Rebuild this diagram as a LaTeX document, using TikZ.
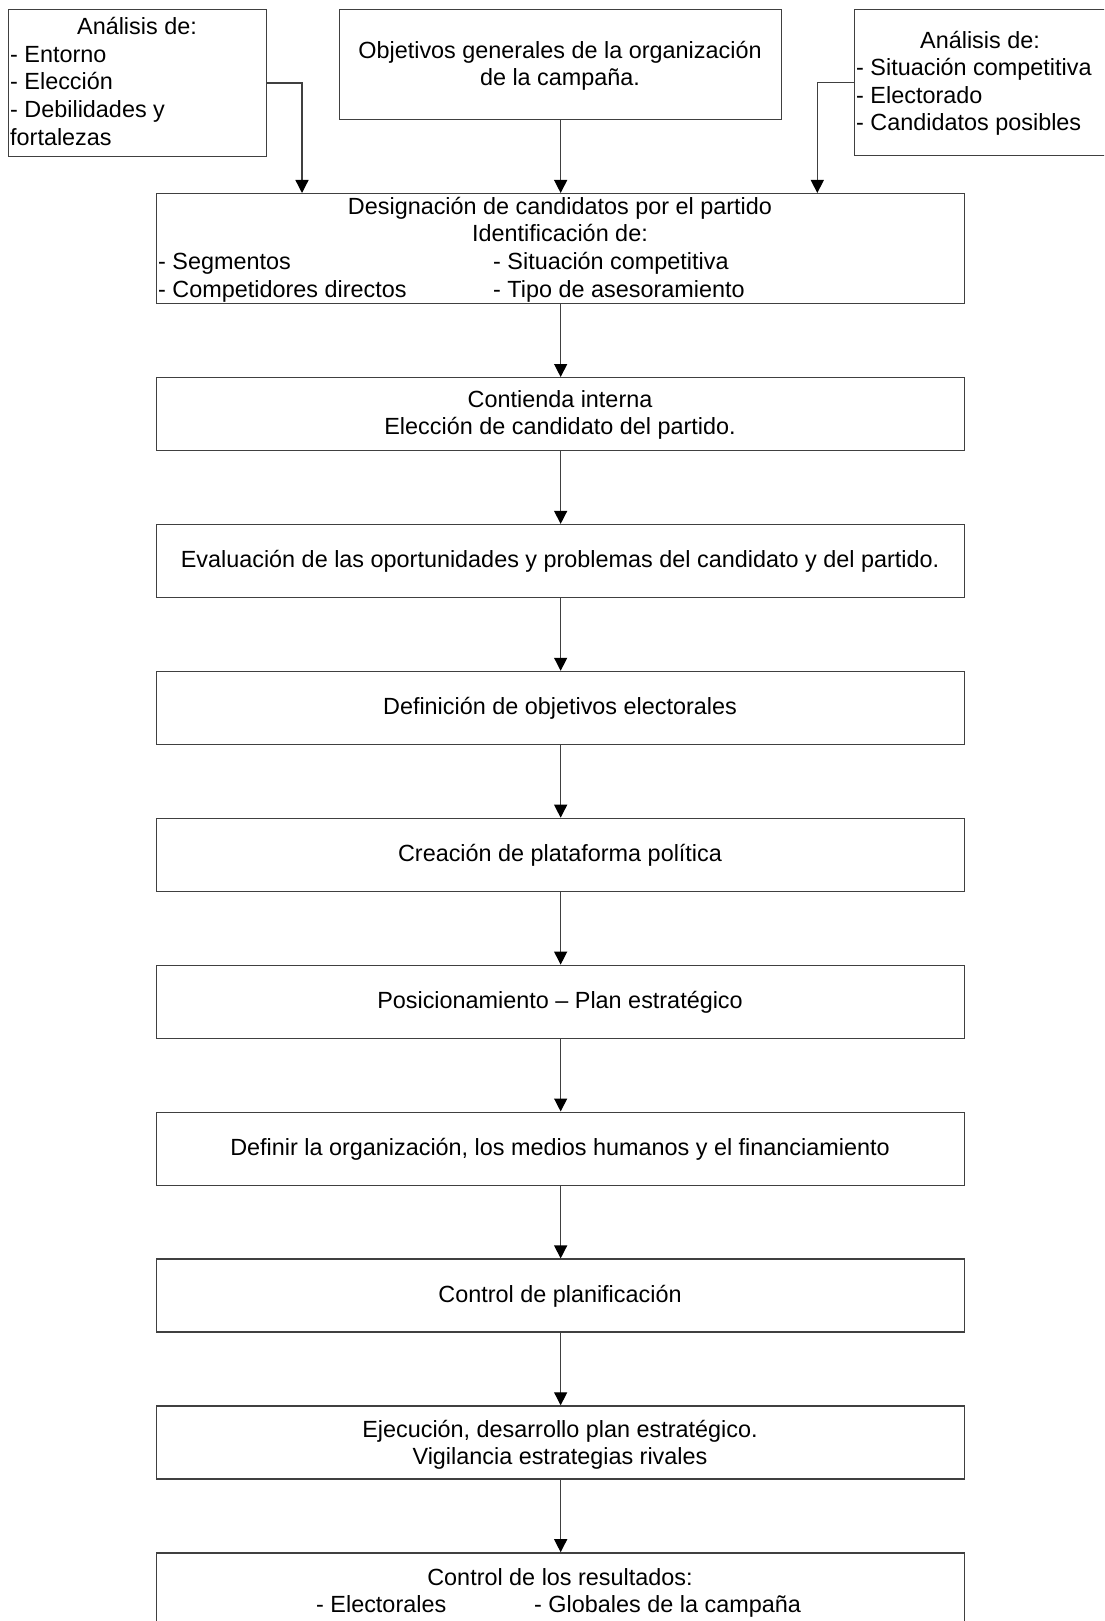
\documentclass[tikz,border=0pt]{standalone}
\usepackage{fontspec}
\setmainfont{Liberation Sans}
\usetikzlibrary{arrows.meta}
\begin{document}
\begin{tikzpicture}[x=1pt,y=-1pt,
  box/.style={draw=black!75, line width=1.3pt, rectangle, inner sep=0pt, anchor=north west},
  stepbox/.style={box, minimum width=808pt, minimum height=73pt},
  txt/.style={inner sep=0pt, anchor=base, font=\fontsize{23.4pt}{27pt}\selectfont},
  txtl/.style={txt, anchor=base west},
  arr/.style={draw=black!75, line width=1.3pt, -{Triangle[width=13pt,length=13pt,color=black]}}]

\clip (0,0) rectangle (1104,1621);
\fill[white] (0,0) rectangle (1104,1621);

% top row of input boxes
\node[box, minimum width=258pt, minimum height=147pt] (L) at (8,9) {};
\node[box, minimum width=442pt, minimum height=110pt] (T) at (339,9) {};
\node[box, minimum width=261pt, minimum height=146pt] (R) at (854,9) {};

\node[txt]  (L0) at (137,34.5)  {Análisis de:};
\node[txtl] (L1) at (10,62.2)   {- Entorno};
\node[txtl] (L2) at (10,89.9)   {- Elección};
\node[txtl] (L3) at (10,117.6)  {- Debilidades y};
\node[txtl] (L4) at (10,145.3)  {fortalezas};

\node[txt] (T1) at (560,58.5) {Objetivos generales de la organización};
\node[txt] (T2) at (560,86)   {de la campaña.};

\node[txt]  (R0) at (980,48.5)  {Análisis de:};
\node[txtl] (R1) at (856,76)    {- Situación competitiva};
\node[txtl] (R2) at (856,103.5) {- Electorado};
\node[txtl] (R3) at (856,131)   {- Candidatos posibles};

% designation box
\node[box, minimum width=808pt, minimum height=110pt] (D) at (156,193) {};
\node[txt]  (D1) at (560,214.5) {Designación de candidatos por el partido};
\node[txt]  (D2) at (560,242)   {Identificación de:};
\node[txtl] (D3) at (158,269.5) {- Segmentos};
\node[txtl] (D4) at (158,297.5) {- Competidores directos};
\node[txtl] (D5) at (493,269.5) {- Situación competitiva};
\node[txtl] (D6) at (493,297.5) {- Tipo de asesoramiento};

% sequence of steps
\node[stepbox] (S1) at (156,377.0)  {};
\node[stepbox] (S2) at (156,523.9)  {};
\node[stepbox] (S3) at (156,670.8)  {};
\node[stepbox] (S4) at (156,817.7)  {};
\node[stepbox] (S5) at (156,964.6)  {};
\node[stepbox] (S6) at (156,1111.5) {};
\node[stepbox] (S7) at (156,1258.4) {};
\node[stepbox] (S8) at (156,1405.3) {};
\node[box, minimum width=808pt, minimum height=120pt] (S9) at (156,1552.2) {};

\node[txt] (S1a) at (560,407)    {Contienda interna};
\node[txt] (S1b) at (560,434)    {Elección de candidato del partido.};
\node[txt] (S2a) at (560,567.5)  {Evaluación de las oportunidades y problemas del candidato y del partido.};
\node[txt] (S3a) at (560,714.5)  {Definición de objetivos electorales};
\node[txt] (S4a) at (560,861.5)  {Creación de plataforma política};
\node[txt] (S5a) at (560,1008.5) {Posicionamiento – Plan estratégico};
\node[txt] (S6a) at (560,1155.5) {Definir la organización, los medios humanos y el financiamiento};
\node[txt] (S7a) at (560,1302.5) {Control de planificación};
\node[txt] (S8a) at (560,1437)   {Ejecución, desarrollo plan estratégico.};
\node[txt] (S8b) at (560,1464)   {Vigilancia estrategias rivales};
\node[txt]  (S9a) at (560,1585)  {Control de los resultados:};
\node[txtl] (S9b) at (316,1612)  {- Electorales};
\node[txtl] (S9c) at (534,1612)  {- Globales de la campaña};

% connectors
\draw[arr] (L.east) -| ([xshift=146pt]D.north west);
\draw[arr] (R.west) -| ([xshift=-148pt]D.north east);
\draw[arr] (T.south) -- (D.north);
\draw[arr] (D.south) -- (S1.north);
\draw[arr] (S1.south) -- (S2.north);
\draw[arr] (S2.south) -- (S3.north);
\draw[arr] (S3.south) -- (S4.north);
\draw[arr] (S4.south) -- (S5.north);
\draw[arr] (S5.south) -- (S6.north);
\draw[arr] (S6.south) -- (S7.north);
\draw[arr] (S7.south) -- (S8.north);
\draw[arr] (S8.south) -- (S9.north);
\end{tikzpicture}
\end{document}
